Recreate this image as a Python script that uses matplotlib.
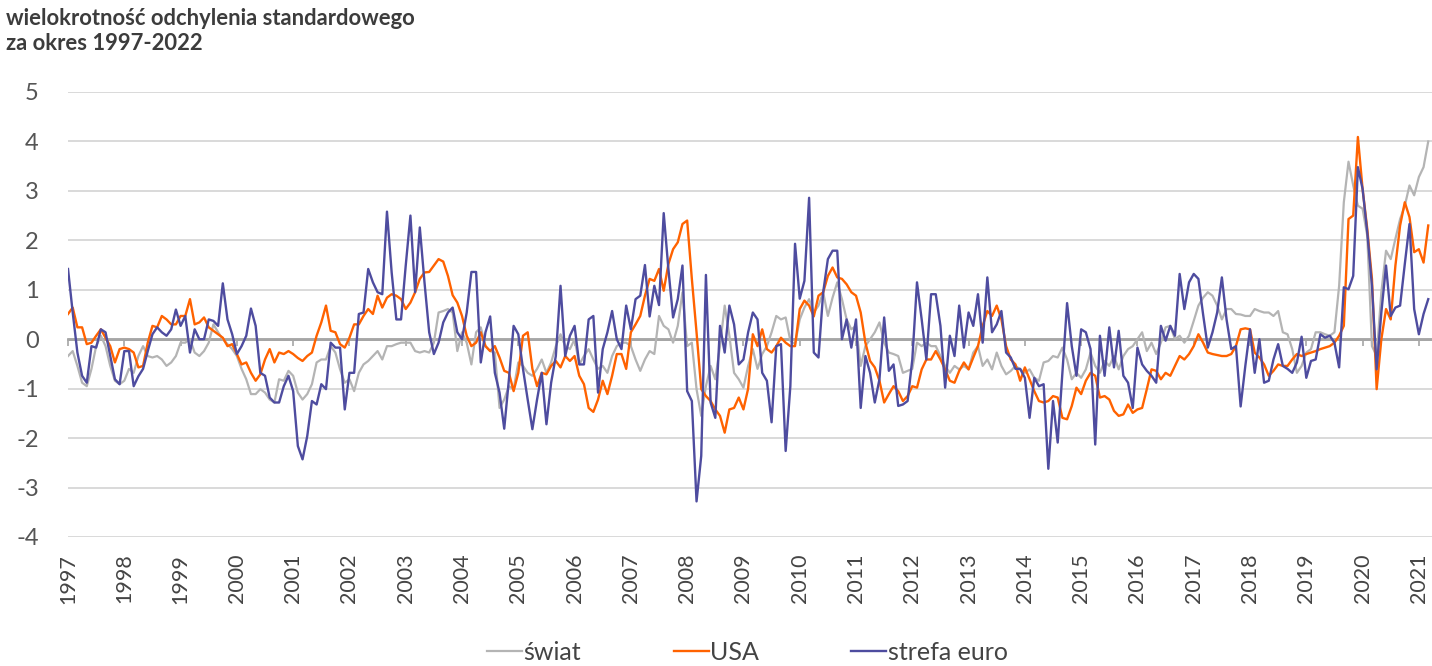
import numpy as np
import matplotlib
matplotlib.use('Agg')
import matplotlib.pyplot as plt

# miesieczne dane od 1997-01, wielokrotnosc odchylenia standardowego
swiat = [
    -0.34, -0.24, -0.54, -0.88, -0.95, -0.6, -0.14, 0.07, -0.14, -0.54,
    -0.84, -0.91, -0.84, -0.6, -0.68, -0.34, -0.14, -0.34, -0.37, -0.34,
    -0.41, -0.54, -0.47, -0.34, -0.07, -0.07, 0.0, -0.27, -0.34, -0.24,
    -0.07, 0.3, 0.14, 0.0, -0.1, -0.2, -0.34, -0.6, -0.81, -1.11,
    -1.11, -1.01, -1.08, -1.22, -1.28, -0.81, -0.84,
    -0.64, -0.74, -1.08, -1.22, -1.11, -0.91, -0.47, -0.41, -0.41, -0.14,
    -0.27, -0.61, -0.88, -0.81, -1.05, -0.68, -0.51, -0.44, -0.34, -0.24,
    -0.41, -0.14, -0.14, -0.1, -0.07, -0.07, -0.07, -0.24, -0.27, -0.24,
    -0.27, -0.07, 0.54, 0.57, 0.61, 0.54, -0.24, 0.14, -0.07, -0.51,
    0.14, 0.24, -0.14, -0.24, -0.27, -1.39, -1.22, -0.95, -1.01, -0.47,
    -0.54, -0.68,
    -0.74, -0.6, -0.41, -0.68, -0.47, -0.14, 0.1, -0.14, -0.2, 0.0,
    -0.51, -0.34, -0.2, -0.41, -0.6, -0.54, -0.68, -0.34, -0.14, -0.07,
    -0.07, -0.14, -0.41, -0.64, -0.41, -0.24, -0.3, 0.47, 0.27, 0.2,
    -0.07, 0.27, 0.95, -0.14, -0.07, -1.01, -1.55, -0.95, -0.54, -0.81,
    -0.14, 0.68, 0.07, -0.68, -0.81, -0.98, -0.54, -0.2,
    -0.6, -0.3, -0.14, 0.14, 0.47, 0.4, 0.44, -0.03, -0.1, 0.4,
    0.64, 0.81, 0.54, 0.68, 0.95, 0.47, 0.84, 1.15, 0.81, 0.4,
    0.2, 0.27, -0.54, -0.14, 0.0, 0.14, 0.34, -0.07, -0.27, -0.3,
    -0.34, -0.68, -0.64, -0.6, -0.07, -0.14, -0.07, -0.14, -0.14, -0.34,
    -0.54, -0.68, -0.54, -0.61, -0.54, -0.61, -0.27, -0.14,
    -0.54, -0.41, -0.61, -0.27, -0.54, -0.71, -0.64, -0.54, -0.61, -0.68,
    -0.61, -0.78, -0.84, -0.47, -0.44, -0.34, -0.37, -0.17, -0.41, -0.81,
    -0.68, -0.78, -0.61, -0.27, -0.54, -0.68, -0.44, -0.54, -0.34, -0.61,
    -0.34, -0.2, -0.14, 0.0, 0.14, -0.24, -0.07, -0.3, -0.07, 0.24,
    0.27, 0.0, 0.07, -0.07, 0.07, 0.37, 0.68, 0.84, 0.95, 0.88,
    0.68, 0.4, 0.61, 0.61, 0.51, 0.5, 0.47, 0.47, 0.61, 0.57,
    0.54, 0.54, 0.47, 0.57, 0.14, 0.1, -0.2, -0.68, -0.54, -0.27,
    -0.2, 0.14, 0.14, 0.1, 0.07, 0.14, 1.08, 2.77, 3.59, 3.11,
    2.7, 2.64, 2.09, -0.14, -0.34, 0.95, 1.79, 1.62, 2.03, 2.43,
    2.7, 3.11, 2.91, 3.28, 3.48, 4.0,
]

usa = [
    0.51, 0.64, 0.24, 0.24, -0.1, -0.07, 0.07, 0.2, 0.03, -0.14,
    -0.47, -0.2, -0.17, -0.2, -0.27, -0.57, -0.54, -0.07, 0.27, 0.24,
    0.47, 0.4, 0.3, 0.3, 0.47, 0.47, 0.81, 0.3, 0.34, 0.44,
    0.24, 0.17, 0.1, 0.03, -0.14, -0.1, -0.3, -0.51, -0.47, -0.68,
    -0.84, -0.71, -0.41, -0.2, -0.47, -0.27, -0.3,
    -0.24, -0.3, -0.38, -0.44, -0.34, -0.27, 0.07, 0.34, 0.68, 0.17,
    0.14, -0.1, -0.17, 0.03, 0.3, 0.3, 0.47, 0.61, 0.51, 0.88,
    0.64, 0.84, 0.91, 0.88, 0.81, 0.61, 0.74, 0.95, 1.22, 1.35,
    1.36, 1.49, 1.62, 1.57, 1.28, 0.89, 0.74, 0.47, 0.07, -0.14,
    -0.07, 0.14, -0.14, -0.24, -0.14, -0.37, -0.64, -0.68, -1.05, -0.68,
    0.07, 0.14,
    -0.6, -0.95, -0.68, -0.71, -0.54, -0.44, -0.57, -0.34, -0.44, -0.34,
    -0.74, -0.91, -1.39, -1.47, -1.22, -0.84, -1.11, -0.74, -0.3, -0.3,
    -0.6, 0.14, 0.3, 0.47, 0.88, 1.22, 1.18, 1.42, 0.98, 1.52,
    1.82, 1.96, 2.33, 2.4, 1.22, 0.14, -1.01, -1.15, -1.25, -1.42,
    -1.55, -1.89, -1.42, -1.39, -1.18, -1.42, -1.0, 0.1, -0.14,
    0.2, -0.2, -0.27, -0.14, 0.03, -0.07, -0.14, -0.14, 0.61, 0.78,
    0.68, 0.46, 0.88, 0.95, 1.28, 1.45, 1.25, 1.22, 1.11, 0.95,
    0.88, 0.54, -0.07, -0.44, -0.57, -0.84, -1.28, -1.11, -0.95, -1.05,
    -1.25, -1.15, -0.95, -0.98, -0.61, -0.41, -0.41, -0.24, -0.41, -0.61,
    -0.84, -0.88, -0.64, -0.47, -0.61, -0.37, -0.14, 0.27, 0.57, 0.47,
    0.68, 0.4, -0.14,
    -0.41, -0.51, -0.84, -0.57, -0.81, -1.05, -1.25, -1.28, -1.25, -1.15,
    -1.18, -1.59, -1.62, -1.35, -0.98, -1.11, -0.84, -0.68, -0.74, -1.18,
    -1.15, -1.22, -1.45, -1.55, -1.52, -1.32, -1.49, -1.42, -1.39, -1.01,
    -0.61, -0.64, -0.81, -0.68, -0.74, -0.54, -0.34, -0.41, -0.3, -0.14,
    0.1, -0.07, -0.27, -0.3, -0.32, -0.34, -0.34, -0.3, -0.14, 0.2,
    0.22, 0.2, -0.27, -0.37, -0.51, -0.74, -0.64, -0.51, -0.54, -0.54,
    -0.41, -0.3, -0.34, -0.3, -0.27, -0.24, -0.2, -0.17, -0.14, -0.07,
    0.07, 0.27, 2.43, 2.5, 4.09, 3.04, 2.23, 1.22, -1.01, 0.0,
    0.61, 0.4, 1.49, 2.3, 2.77, 2.47, 1.76, 1.82, 1.55, 2.3,
]

strefa_euro = [
    1.42, 0.54, -0.27, -0.74, -0.88, -0.14, -0.17, 0.2, 0.14, -0.34,
    -0.81, -0.91, -0.24, -0.24, -0.95, -0.75, -0.6, -0.24, 0.1, 0.24,
    0.14, 0.07, 0.2, 0.6, 0.27, 0.47, -0.27, 0.2, 0.0, 0.0,
    0.4, 0.37, 0.27, 1.13, 0.4, 0.1, -0.3, -0.14, 0.07, 0.62,
    0.27, -0.68, -0.74, -1.18, -1.28, -1.28, -0.95, -0.74, -1.05,
    -2.16, -2.43, -1.96, -1.25, -1.32, -0.91, -1.01, -0.07, -0.17, -0.17,
    -1.42, -0.68, -0.68, 0.51, 0.54, 1.42, 1.15, 0.95, 0.91, 2.58,
    1.35, 0.4, 0.4, 1.49, 2.5, 0.95, 2.26, 1.15, 0.14, -0.3,
    -0.07, 0.34, 0.54, 0.64, 0.14, 0.0, 0.54, 1.36, 1.36, -0.47,
    0.14, 0.46, -0.68, -1.08, -1.81, -0.81, 0.27,
    0.1,
    -0.6, -1.22, -1.82, -1.22, -0.68, -1.72, -0.88, -0.34, 1.08, -0.34,
    0.07, 0.27, -0.51, -0.51, 0.4, 0.47, -1.08, -0.2, 0.14, 0.57,
    0.0, -0.2, 0.68, 0.2, 0.81, 0.88, 1.5, 0.46, 1.08, 0.69,
    2.55, 1.42, 0.44, 0.81, 1.49, -1.05, -1.25, -3.28, -2.36, 1.3,
    -1.28, -1.59, 0.27, -0.27, 0.68, 0.3, -0.51, -0.41, 0.14, 0.54,
    0.4,
    -0.68, -0.84, -1.68, -0.14, -0.1, -2.26, -0.95, 1.93, 0.82, 1.18,
    2.86, -0.27, -0.37, 0.95, 1.62, 1.79, 1.79, 0.0, 0.4, -0.17,
    0.4, -1.39, -0.34, -0.68, -1.28, -0.81, 0.44, -0.64, -0.51, -1.35,
    -1.32, -1.25, -0.41, 1.15, 0.4, -0.41, 0.91, 0.91, 0.27, -0.98,
    0.07, -0.34, 0.68, -0.17, 0.54, 0.27, 0.91, -0.07, 1.25,
    0.14, 0.3, 0.57, -0.27, -0.37, -0.6, -0.6, -0.78, -1.59, -0.78,
    -0.95, -0.91, -2.62, -1.25, -2.09, -0.68, 0.73, -0.14, -0.74, 0.2,
    0.14, -0.2, -2.13, 0.07, -0.74, 0.24, -0.57, 0.17, -0.74, -0.88,
    -1.39, -0.17, -0.51, -0.64, -0.74, -0.88, 0.27, -0.03, 0.27, 0.07,
    1.32, 0.61, 1.15, 1.32,
    1.22, 0.5, -0.17, 0.14, 0.54, 1.25, 0.4, -0.2, -0.14, -1.36,
    -0.54, 0.2, -0.68, 0.0, -0.88, -0.84, -0.41, -0.1, -0.54, -0.6,
    -0.68, -0.47, 0.05, -0.78, -0.44, -0.41, 0.1, 0.03, 0.07, -0.07,
    -0.57, 1.05, 1.01, 1.28, 3.48, 3.04, 2.16, 1.08, -0.61, 0.54,
    1.49, 0.47, 0.64, 0.68, 1.52, 2.33, 0.61, 0.1, 0.51, 0.81,
]

lata = list(range(1997, 2022))

plt.rcParams['font.family'] = ['Lato', 'DejaVu Sans']
plt.rcParams['axes.unicode_minus'] = False

fig = plt.figure(figsize=(14.32, 6.66), dpi=100)
ax = fig.add_axes([0.0475, 0.1937, 0.9525, 0.6682])

ax.plot(np.arange(len(swiat)), swiat, color='#b4b4b4', lw=1.6, label='świat')
ax.plot(np.arange(len(usa)), usa, color='#ff6200', lw=1.7, label='USA')
ax.plot(np.arange(len(strefa_euro)), strefa_euro, color='#4e4c9f', lw=1.7, label='strefa euro')

ax.set_xlim(0, 290.8)
ax.set_ylim(-4, 5)
ax.set_yticks(range(-4, 6))
ax.grid(axis='y', color='#d9d9d9', lw=1.4)
ax.set_axisbelow(True)
for s in ax.spines.values():
    s.set_visible(False)

ax.set_xticks([12 * (r - 1997) for r in lata])
ax.set_xticklabels([str(r) for r in lata], rotation=90)
ax.tick_params(axis='x', length=0, pad=12, labelsize=15.5, labelcolor='#444444')
ax.tick_params(axis='y', length=0, pad=21, labelsize=17, labelcolor='#555555')

# os zero z kreskami lat
zero = ax.secondary_xaxis(4 / 9)
zero.set_xticks([12 * (r - 1997) for r in lata])
zero.tick_params(direction='out', length=5, width=1.2, color='#a6a6a6', labelbottom=False)
zero.spines['bottom'].set_color('#a6a6a6')
zero.spines['bottom'].set_linewidth(2)
ax.axhline(0, color='#a6a6a6', lw=2, zorder=1)

fig.text(0.004, 0.988, 'wielokrotność odchylenia standardowego\nza okres 1997-2022',
         fontsize=15.8, fontweight='bold', color='#3c3c3c', va='top', ha='left',
         linespacing=1.25)

fig.legend(loc='center', bbox_to_anchor=(0.522, 0.021), ncol=3, frameon=False,
           fontsize=18, handlelength=1.4, handletextpad=0.05, columnspacing=3.7,
           labelcolor='#444444')

fig.savefig('out.png', dpi=100)
